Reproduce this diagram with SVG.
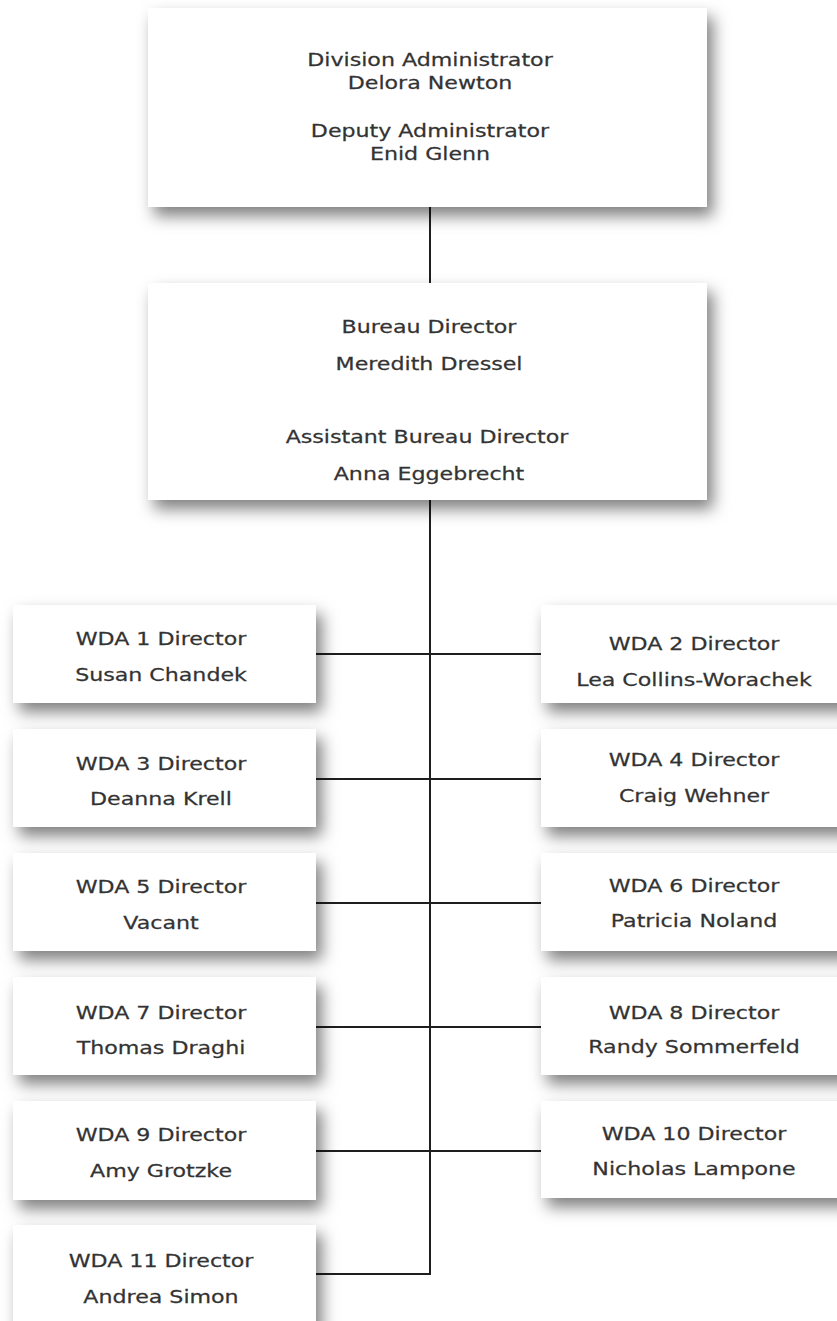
<svg xmlns="http://www.w3.org/2000/svg" width="837" height="1321" viewBox="0 0 837 1321">
<defs>
<filter id="sh" x="-15%" y="-25%" width="140%" height="160%">
<feDropShadow dx="6" dy="9" stdDeviation="8" flood-color="#000" flood-opacity="0.5"/>
</filter>
<style>
.box{fill:#fff;filter:url(#sh)}
.t{font-family:"DejaVu Sans",Verdana,sans-serif;font-size:18px;fill:#333;stroke:#333;stroke-width:0.25;text-anchor:middle}
.c{stroke:#1e1e1e;stroke-width:2;fill:none}
</style>
</defs>
<rect width="837" height="1321" fill="#fff"/>
<g id="connectors">
<path class="c" d="M430 207V283M430 500V1274H316"/>
<path class="c" d="M316 654H541M316 779H541M316 903H541M316 1027H541M316 1151H541"/>
</g>
<g id="division">
<rect class="box" x="148" y="8" width="559" height="199"/>
<text class="t" transform="translate(430 66) scale(1.23 1)">Division Administrator</text>
<text class="t" transform="translate(430 89) scale(1.23 1)">Delora Newton</text>
<text class="t" transform="translate(430 137) scale(1.23 1)">Deputy Administrator</text>
<text class="t" transform="translate(430 160) scale(1.23 1)">Enid Glenn</text>
</g>
<g id="bureau">
<rect class="box" x="148" y="283" width="559" height="217"/>
<text class="t" transform="translate(429 333) scale(1.23 1)">Bureau Director</text>
<text class="t" transform="translate(429 370) scale(1.23 1)">Meredith Dressel</text>
<text class="t" transform="translate(427 443) scale(1.23 1)">Assistant Bureau Director</text>
<text class="t" transform="translate(429 480) scale(1.23 1)">Anna Eggebrecht</text>
</g>
<g id="wda1">
<rect class="box" x="13" y="605" width="303" height="98"/>
<text class="t" transform="translate(161 645) scale(1.23 1)">WDA 1 Director</text>
<text class="t" transform="translate(161 681) scale(1.23 1)">Susan Chandek</text>
</g>
<g id="wda2">
<rect class="box" x="541" y="605" width="310" height="98"/>
<text class="t" transform="translate(694 650) scale(1.23 1)">WDA 2 Director</text>
<text class="t" transform="translate(694 686) scale(1.23 1)">Lea Collins-Worachek</text>
</g>
<g id="wda3">
<rect class="box" x="13" y="729" width="303" height="98"/>
<text class="t" transform="translate(161 770) scale(1.23 1)">WDA 3 Director</text>
<text class="t" transform="translate(161 805) scale(1.23 1)">Deanna Krell</text>
</g>
<g id="wda4">
<rect class="box" x="541" y="729" width="310" height="98"/>
<text class="t" transform="translate(694 766) scale(1.23 1)">WDA 4 Director</text>
<text class="t" transform="translate(694 802) scale(1.23 1)">Craig Wehner</text>
</g>
<g id="wda5">
<rect class="box" x="13" y="853" width="303" height="98"/>
<text class="t" transform="translate(161 893) scale(1.23 1)">WDA 5 Director</text>
<text class="t" transform="translate(161 929) scale(1.23 1)">Vacant</text>
</g>
<g id="wda6">
<rect class="box" x="541" y="853" width="310" height="98"/>
<text class="t" transform="translate(694 892) scale(1.23 1)">WDA 6 Director</text>
<text class="t" transform="translate(694 927) scale(1.23 1)">Patricia Noland</text>
</g>
<g id="wda7">
<rect class="box" x="13" y="977" width="303" height="98"/>
<text class="t" transform="translate(161 1019) scale(1.23 1)">WDA 7 Director</text>
<text class="t" transform="translate(161 1054) scale(1.23 1)">Thomas Draghi</text>
</g>
<g id="wda8">
<rect class="box" x="541" y="977" width="310" height="98"/>
<text class="t" transform="translate(694 1019) scale(1.23 1)">WDA 8 Director</text>
<text class="t" transform="translate(694 1053) scale(1.23 1)">Randy Sommerfeld</text>
</g>
<g id="wda9">
<rect class="box" x="13" y="1101" width="303" height="99"/>
<text class="t" transform="translate(161 1141) scale(1.23 1)">WDA 9 Director</text>
<text class="t" transform="translate(161 1177) scale(1.23 1)">Amy Grotzke</text>
</g>
<g id="wda10">
<rect class="box" x="541" y="1101" width="310" height="97"/>
<text class="t" transform="translate(694 1140) scale(1.23 1)">WDA 10 Director</text>
<text class="t" transform="translate(694 1175) scale(1.23 1)">Nicholas Lampone</text>
</g>
<g id="wda11">
<rect class="box" x="13" y="1225" width="303" height="110"/>
<text class="t" transform="translate(161 1267) scale(1.23 1)">WDA 11 Director</text>
<text class="t" transform="translate(161 1303) scale(1.23 1)">Andrea Simon</text>
</g>
</svg>
